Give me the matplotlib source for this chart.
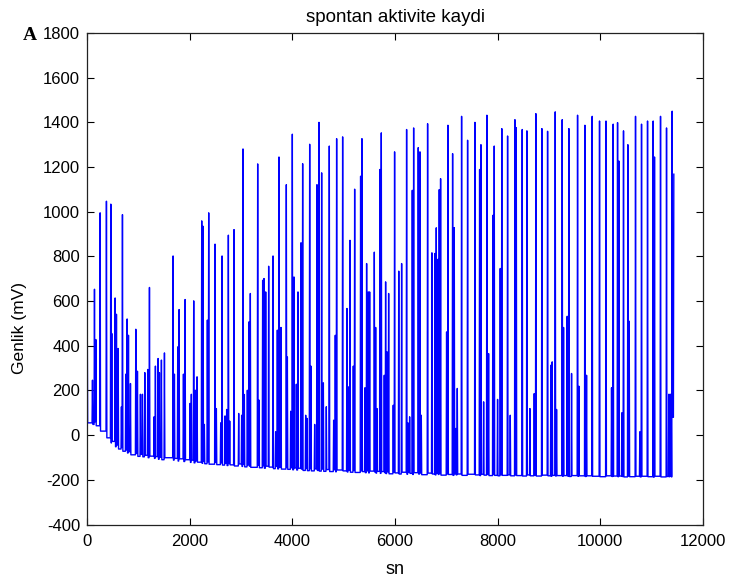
import numpy as np
import matplotlib
matplotlib.use("Agg")
from matplotlib import pyplot as plt

# spike events: time (sn) and amplitude (mV), with the resting level reached after each
spike_t = [
    5, 107, 146, 172, 256, 379, 464, 483, 548, 574, 607, 671, 691, 756, 782, 808, 847,
    951, 983, 1041, 1080, 1126, 1184, 1217, 1307, 1333, 1385, 1411, 1450, 1509, 1677,
    1703, 1768, 1794, 1879, 1911, 2008, 2033, 2079, 2111, 2144, 2235, 2261, 2286, 2345,
    2371, 2494, 2520, 2605, 2631, 2689, 2721, 2754, 2780, 2864, 2955, 3013, 3039, 3065,
    3124, 3156, 3182, 3325, 3351, 3422, 3448, 3481, 3539, 3624, 3675, 3708, 3740, 3779,
    3883, 3903, 3968, 4000, 4032, 4078, 4110, 4169, 4201, 4260, 4286, 4338, 4363, 4435,
    4480, 4519, 4571, 4604, 4662, 4720, 4805, 4837, 4863, 4980, 5064, 5090, 5123, 5188,
    5214, 5330, 5356, 5415, 5447, 5480, 5506, 5597, 5623, 5649, 5707, 5733, 5791, 5817,
    5843, 5876, 5966, 5992, 6073, 6129, 6226, 6252, 6285, 6337, 6363, 6453, 6486, 6512,
    6635, 6719, 6778, 6804, 6836, 6862, 6888, 7005, 7031, 7122, 7154, 7186, 7213, 7297,
    7414, 7557, 7648, 7674, 7726, 7790, 7823, 7907, 7933, 7998, 8050, 8080, 8193, 8245,
    8336, 8362, 8478, 8569, 8628, 8712, 8744, 8861, 8972, 9036, 9062, 9121, 9147, 9257,
    9283, 9354, 9387, 9439, 9556, 9582, 9699, 9731, 9841, 9984, 10110, 10218, 10250,
    10335, 10361, 10419, 10451, 10536, 10562, 10685, 10769, 10802, 10919, 11029, 11055,
    11172, 11289, 11334, 11360, 11379, 11399, 11431,
]
spike_mv = [
    490, 246, 653, 428, 995, 1047, 1034, 455, 614, 541, 388, 127, 987, 273, 520, 447, 231,
    474, 286, 183, 183, 280, 294, 661, 82, 309, 343, 280, 336, 368, 802,
    273, 395, 562, 273, 607, 142, 183, 601, 201, 261, 959, 935, 48, 515,
    995, 855, 119, 55, 802, 86, 115, 895, 63, 920, 97, 89, 1281, 182,
    201, 507, 634, 1214, 157, 693, 701, 641, 756, 802, 15, 470, 1245, 482,
    1121, 350, 107, 1347, 708, 228, 641, 861, 1215, 89, 75, 1302, 309, 48,
    1121, 1400, 1174, 234, 127, 1294, 67, 447, 1327, 1335, 567, 216, 872, 309,
    1101, 1159, 1327, 212, 768, 641, 641, 819, 482, 119, 1189, 1353, 268, 686,
    373, 634, 134, 1268, 734, 768, 1368, 55, 82, 1096, 1375, 1287, 1268, 89,
    1394, 816, 813, 928, 787, 1099, 1148, 462, 1387, 1260, 929, 30, 209, 1427,
    1320, 1400, 1189, 1300, 149, 1432, 365, 984, 1294, 160, 746, 1372, 1339, 89,
    1412, 1376, 1368, 1362, 119, 186, 1439, 1372, 1360, 313, 328, 1447, 115, 1412,
    482, 532, 1372, 276, 1432, 219, 1387, 268, 1427, 1406, 1406, 212, 1392,
    1399, 1227, 100, 1362, 1300, 510, 1427, 15, 1392, 1406, 1406, 1245,
    1427, 1375, 183, 183, 183, 1450, 1168,
]
rest_mv = [
    55, 48, 60, 42, 18, -12, -35, -28, -52, -44, -62, -55, -72, -66, -80, -74, -88,
    -82, -95, -86, -97, -90, -101, -94, -104, -96, -108, -99, -110, -101, -112,
    -104, -116, -106, -118, -110, -122, -112, -124, -115, -121, -126, -117, -128, -119,
    -130, -121, -132, -124, -134, -126, -136, -127, -133, -138, -129, -140, -131, -142,
    -133, -139, -144, -135, -146, -137, -148, -139, -143, -150, -140, -151, -143, -152,
    -144, -153, -146, -155, -147, -156, -148, -152, -158, -149, -159, -150, -160, -151,
    -158, -161, -152, -162, -154, -163, -155, -164, -156, -160, -165, -157, -166, -158,
    -167, -159, -163, -168, -160, -169, -161, -165, -170, -162, -171, -163, -168, -172,
    -164, -173, -165, -169, -174, -166, -175, -167, -171, -176, -168, -174, -169, -177,
    -170, -174, -178, -171, -176, -172, -179, -173, -176, -180, -173, -178, -174, -180,
    -175, -178, -181, -175, -179, -176, -181, -176, -180, -182, -177, -180, -178, -182,
    -178, -181, -183, -178, -182, -179, -183, -179, -182, -184, -180, -183, -181, -184,
    -181, -183, -185, -181, -184, -182, -185, -182, -184, -186, -182, -185, -183,
    -186, -183, -185, -187, -183, -186, -184, -187, -184, -186, -188, -184,
    -187, -185, -186, -183, -187, 80, 1168,
]

x_ticks = [0, 2000, 4000, 6000, 8000, 10000, 12000]
y_ticks = [-400, -200, 0, 200, 400, 600, 800, 1000, 1200, 1400, 1600, 1800]


def build_trace(times, peaks, rests, half_width=8):
    # each spike: rise from previous rest level, peak, fall back to its own rest level
    t, v = [], []
    prev = rests[0]
    for i, (ti, pk, rs) in enumerate(zip(times, peaks, rests)):
        if i > 0:
            t.append(ti - half_width)
            v.append(prev)
        t.append(ti)
        v.append(pk)
        if i < len(times) - 1:
            t.append(ti + half_width)
            v.append(rs)
        prev = rs
    return np.array(t), np.array(v)


plt.rcParams["font.family"] = ["Liberation Sans", "DejaVu Sans"]
plt.rcParams["axes.unicode_minus"] = False

trace_t, trace_mv = build_trace(spike_t, spike_mv, rest_mv)

fig = plt.figure(figsize=(7.46, 5.85), dpi=100)
ax = fig.add_axes([0.1166, 0.1034, 0.8258, 0.8402])

ax.plot(trace_t, trace_mv, color="#0000ff", linewidth=1.0)

ax.set_xlim(0, 12000)
ax.set_ylim(-400, 1800)
ax.set_xticks(x_ticks)
ax.set_yticks(y_ticks)
ax.tick_params(direction="in", length=5, width=0.8, top=True, right=True,
               labelsize=12)
ax.tick_params(axis="x", pad=7)
ax.tick_params(axis="y", pad=5)
for s in ax.spines.values():
    s.set_linewidth(0.9)
    s.set_color("#222222")

ax.set_title("spontan aktivite kaydi", fontsize=13.5, pad=8)
ax.set_xlabel("sn", fontsize=13)
ax.xaxis.set_label_coords(0.5, -0.074)
ax.set_ylabel("Genlik (mV)", fontsize=12.5)
ax.yaxis.set_label_coords(-0.098, 0.40)

fig.text(0.030, 0.940, "A", family="Liberation Serif", fontweight="bold",
         fontsize=14, va="center", ha="left")

fig.savefig("out.png", dpi=100)
